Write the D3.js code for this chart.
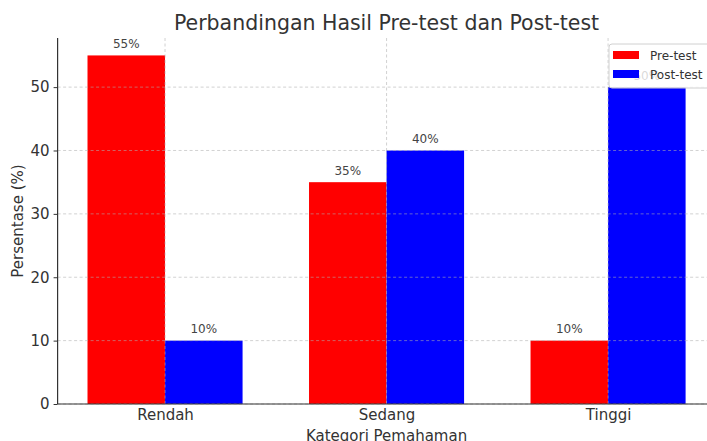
<!DOCTYPE html>
<html><head><meta charset="utf-8">
<script src="https://cdn.jsdelivr.net/npm/d3@7"></script>
<style>body{margin:0;background:#fff;}svg{display:block;font-family:"DejaVu Sans",sans-serif;}</style>
</head><body>
<svg id="c" width="707" height="441"></svg>
<script>
const categories = ["Rendah", "Sedang", "Tinggi"];
const seriesNames = ["Pre-test", "Post-test"];
const preTest = [55, 35, 10];
const postTest = [10, 40, 50];
const yTicks = [0, 10, 20, 30, 40, 50];
const colors = ["#ff0000", "#0000ff"];

(function () {
const svg = d3.select("#c");
const L = 57.6, R = 715.5, T = 38, B = 404;
const barW = 0.35;
const x = d3.scaleLinear().domain([-0.485, 2.485]).range([L, R]);
const y = d3.scaleLinear().domain([0, 57.75]).range([B, T]);
const series = [preTest, postTest];

// bars
series.forEach((vals, s) => {
  svg.append("g").selectAll("rect").data(vals).join("rect")
    .attr("x", (d, i) => x(i + (s === 0 ? -barW : 0)))
    .attr("width", x(barW) - x(0))
    .attr("y", d => y(d))
    .attr("height", d => y(0) - y(d))
    .attr("fill", colors[s]);
});

// grid
const grid = svg.append("g").attr("stroke", "#b0b0b0").attr("stroke-dasharray", "3,2.5").attr("stroke-width", 0.8).attr("opacity", 0.7);
grid.selectAll("line.h").data(yTicks).join("line").attr("class", "h")
  .attr("x1", L).attr("x2", R).attr("y1", d => y(d)).attr("y2", d => y(d));
grid.selectAll("line.v").data(categories).join("line").attr("class", "v")
  .attr("y1", T).attr("y2", B).attr("x1", (d, i) => x(i)).attr("x2", (d, i) => x(i));

// value labels
series.forEach((vals, s) => {
  svg.append("g").selectAll("text").data(vals).join("text")
    .attr("x", (d, i) => x(i + (s === 0 ? -barW / 2 : barW / 2)))
    .attr("y", d => y(d + 1) - 1)
    .attr("text-anchor", "middle")
    .attr("font-size", 12).attr("fill", "#444")
    .text(d => d + "%");
});

// axes
const yAxis = svg.append("g").attr("transform", `translate(${L},0)`)
  .call(d3.axisLeft(y).tickValues(yTicks).tickSize(4).tickPadding(4));
const xAxis = svg.append("g").attr("transform", `translate(0,${B})`)
  .call(d3.axisBottom(x).tickValues([0, 1, 2]).tickFormat(i => categories[i]).tickSize(0).tickPadding(5));
[yAxis, xAxis].forEach(a => {
  a.select(".domain").attr("stroke", "#333").attr("stroke-width", 1.2);
  a.selectAll(".tick line").attr("stroke", "#333");
  a.selectAll(".tick text").attr("font-size", 15).attr("fill", "#333").attr("font-family", "DejaVu Sans");
});
xAxis.select(".domain").attr("d", `M${L},0H${R}`);
yAxis.select(".domain").attr("d", `M0,${T}V${B}`);

// titles
svg.append("text").attr("x", (L + R) / 2).attr("y", 30).attr("text-anchor", "middle")
  .attr("font-size", 20.5).attr("fill", "#333").text("Perbandingan Hasil Pre-test dan Post-test");
svg.append("text").attr("x", (L + R) / 2).attr("y", 441).attr("text-anchor", "middle")
  .attr("font-size", 15).attr("fill", "#333").text("Kategori Pemahaman");
svg.append("text").attr("transform", `translate(23,${(T + B) / 2}) rotate(-90)`).attr("text-anchor", "middle")
  .attr("font-size", 15).attr("fill", "#333").text("Persentase (%)");

// legend
const lg = svg.append("g").attr("transform", "translate(609,44)");
lg.append("rect").attr("width", 110).attr("height", 44).attr("rx", 3)
  .attr("fill", "#fff").attr("fill-opacity", 0.8).attr("stroke", "#d0d0d0");
seriesNames.forEach((n, i) => {
  lg.append("rect").attr("x", 4).attr("y", 7 + i * 19).attr("width", 26).attr("height", 8).attr("fill", colors[i]);
  lg.append("text").attr("x", 41).attr("y", 16 + i * 19).attr("font-size", 12).attr("fill", "#333").text(n);
});
})();
</script>
</body></html>
